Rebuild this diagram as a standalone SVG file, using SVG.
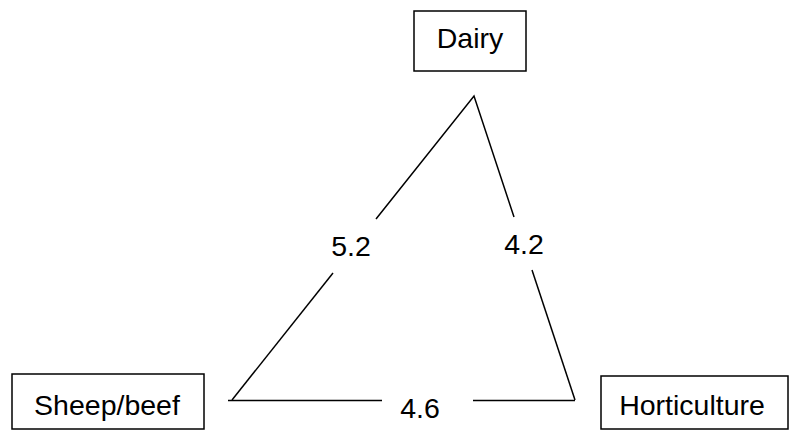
<svg xmlns="http://www.w3.org/2000/svg" width="792" height="430" viewBox="0 0 792 430">
<style>
.box{fill:#fff;stroke:#000;stroke-width:1.5}
.t{font-family:"Liberation Sans",Arial,sans-serif;font-size:28.5px;fill:#000;text-anchor:middle}
.c{stroke:#000;stroke-width:1.5;fill:none}
</style>
<rect width="792" height="430" fill="#fff"/>
<g id="dairy"><rect class="box" x="414" y="11" width="112" height="60"/><text class="t" x="470" y="48">Dairy</text></g>
<g id="sheep"><rect class="box" x="12" y="374" width="192" height="55"/><text class="t" x="107" y="415">Sheep/beef</text></g>
<g id="horti"><rect class="box" x="601" y="376" width="187" height="53"/><text class="t" x="692" y="415">Horticulture</text></g>
<g id="connectors">
<path class="c" d="M376 219L474 96L514 217"/>
<path class="c" d="M333 273L232 400"/>
<path class="c" d="M532 270L575 400"/>
<path class="c" d="M228 400.5H382M473 400.5H575"/>
<text class="t" x="351" y="256">5.2</text>
<text class="t" x="524" y="254">4.2</text>
<text class="t" x="420" y="418">4.6</text>
</g>
</svg>
